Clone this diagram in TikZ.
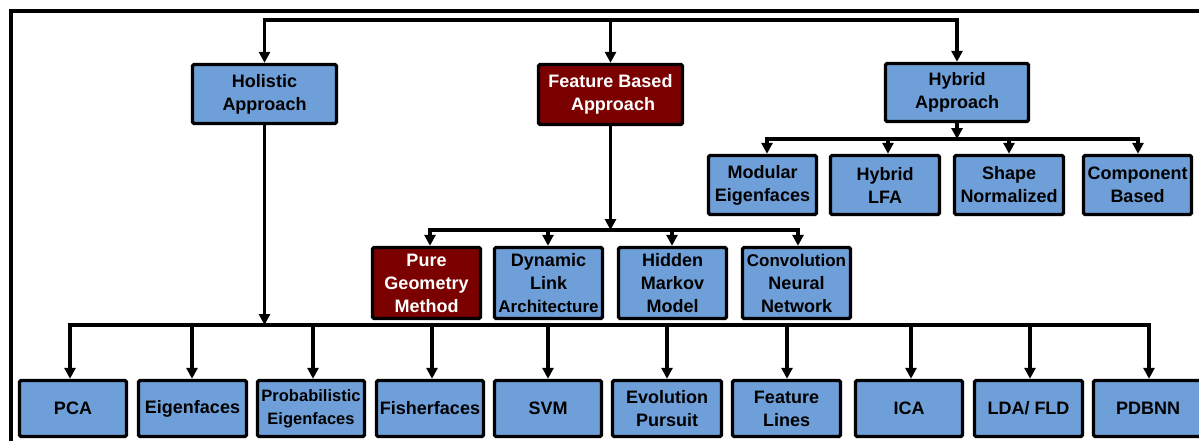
\documentclass[tikz,border=0pt]{standalone}
\usepackage{fontspec}
\setmainfont{Liberation Sans}
\usetikzlibrary{arrows.meta}
\definecolor{boxblue}{HTML}{6F9FD9}
\definecolor{boxred}{HTML}{7B0000}
\begin{document}
\begin{tikzpicture}[x=1pt,y=-1pt,
  box/.style={draw=black, line width=3.4pt, rounded corners=1.5pt, fill=boxblue,
    align=center, inner sep=0pt, text=black,
    font=\bfseries\fontsize{18}{23}\selectfont},
  rbox/.style={box, fill=boxred, text=white},
  conn/.style={line width=3.2pt, line cap=rect},
  arr/.style={line width=3.2pt, -{Triangle[length=11pt,width=11pt]}},
  frame/.style={line width=3.2pt}
]
\useasboundingbox (0,0) rectangle (1199,440);
\clip (0,0) rectangle (1199,440);

% outer frame
\draw[frame] (11,460) -- (11,11) -- (1220,11);

% level 1
\node[box,  minimum width=144pt, minimum height=59pt] (hol)  at (264.5,94)  {Holistic\\Approach};
\node[rbox, minimum width=144pt, minimum height=60pt] (feat) at (610.5,94.5) {Feature Based\\\ Approach};
\node[box,  minimum width=143pt, minimum height=58pt] (hyb)  at (957,92.5)  {Hybrid\\Approach};

% hybrid children
\node[box, minimum width=108pt, minimum height=59pt] (mod)   at (762.5,185) {Modular\\Eigenfaces};
\node[box, minimum width=109pt, minimum height=59pt] (hlfa)  at (885,185)   {Hybrid\\LFA};
\node[box, minimum width=109pt, minimum height=59pt] (shape) at (1009,185)  {Shape\\Normalized};
\node[box, minimum width=108pt, minimum height=59pt] (comp)  at (1137.5,185) {Component\\Based};

% feature children
\node[rbox, minimum width=108pt, minimum height=71pt] (pure) at (426.5,283) {Pure\\Geometry\\Method};
\node[box,  minimum width=108pt, minimum height=71pt] (dyn)  at (548.5,283) {Dynamic\\Link\\{\fontsize{17}{23}\selectfont Architecture}};
\node[box,  minimum width=108pt, minimum height=71pt] (hmm)  at (672.5,283) {Hidden\\Markov\\Model};
\node[box,  minimum width=108pt, minimum height=71pt] (cnn)  at (796.5,283) {{\fontsize{17}{23}\selectfont Convolution}\\Neural\\Network};

% bottom row
\node[box, minimum width=107pt, minimum height=56pt] (pca)   at (73,408.5)    {PCA};
\node[box, minimum width=108pt, minimum height=56pt] (eig)   at (192.5,408.5) {Eigenfaces};
\node[box, minimum width=107pt, minimum height=56pt] (prob)  at (311,408.5)   {\fontsize{16.5}{23}\selectfont Probabilistic\\\fontsize{16.5}{23}\selectfont Eigenfaces};
\node[box, minimum width=107pt, minimum height=56pt] (fish)  at (430,408.5)   {Fisherfaces};
\node[box, minimum width=107pt, minimum height=56pt] (svm)   at (548,408.5)   {SVM};
\node[box, minimum width=109pt, minimum height=56pt] (evo)   at (667,408.5)   {Evolution\\Pursuit};
\node[box, minimum width=108pt, minimum height=56pt] (fl)    at (786.5,408.5) {Feature\\Lines};
\node[box, minimum width=107pt, minimum height=56pt] (ica)   at (909,408.5)   {ICA};
\node[box, minimum width=108pt, minimum height=56pt] (lda)   at (1028.5,408.5) {LDA/ FLD};
\node[box, minimum width=109pt, minimum height=56pt] (pdb)   at (1148,408.5)  {PDBNN};

% top distribution line
\coordinate (t1) at (hol.north |- {(0,20)});
\coordinate (t2) at (feat.north |- {(0,20)});
\coordinate (t3) at (hyb.north |- {(0,20)});
\draw[conn] (t1) -- (t3);
\draw[arr] (t1) -- (hol.north);
\draw[arr] (t2) -- (feat.north);
\draw[arr] (t3) -- (hyb.north);

% hybrid bar
\coordinate (h0) at (hyb.south |- {(0,139)});
\coordinate (h1) at (767,139);
\coordinate (h2) at (888,139);
\coordinate (h3) at (1009,139);
\coordinate (h4) at (1138,139);
\draw[arr] (hyb.south) -- (h0);
\draw[conn] (h1) -- (h4);
\draw[arr] (h1) -- (h1 |- mod.north);
\draw[arr] (h2) -- (h2 |- hlfa.north);
\draw[arr] (h3) -- (h3 |- shape.north);
\draw[arr] (h4) -- (h4 |- comp.north);

% feature bar
\coordinate (f0) at (feat.south |- {(0,230)});
\coordinate (f1) at (430,230);
\coordinate (f2) at (548,230);
\coordinate (f3) at (672,230);
\coordinate (f4) at (798,230);
\draw[arr] (feat.south) -- (f0);
\draw[conn] (f1) -- (f4);
\draw[arr] (f1) -- (f1 |- pure.north);
\draw[arr] (f2) -- (f2 |- dyn.north);
\draw[arr] (f3) -- (f3 |- hmm.north);
\draw[arr] (f4) -- (f4 |- cnn.north);

% holistic bar
\coordinate (b0) at (hol.south |- {(0,325)});
\coordinate (b1) at (70,325);
\coordinate (b2) at (192,325);
\coordinate (b3) at (313,325);
\coordinate (b4) at (432,325);
\coordinate (b5) at (548,325);
\coordinate (b6) at (667,325);
\coordinate (b7) at (787,325);
\coordinate (b8) at (911,325);
\coordinate (b9) at (1030,325);
\coordinate (b10) at (1149,325);
\draw[arr] (hol.south) -- (b0);
\draw[conn] (b1) -- (b10);
\draw[arr] (b1) -- (b1 |- pca.north);
\draw[arr] (b2) -- (b2 |- eig.north);
\draw[arr] (b3) -- (b3 |- prob.north);
\draw[arr] (b4) -- (b4 |- fish.north);
\draw[arr] (b5) -- (b5 |- svm.north);
\draw[arr] (b6) -- (b6 |- evo.north);
\draw[arr] (b7) -- (b7 |- fl.north);
\draw[arr] (b8) -- (b8 |- ica.north);
\draw[arr] (b9) -- (b9 |- lda.north);
\draw[arr] (b10) -- (b10 |- pdb.north);
\end{tikzpicture}
\end{document}
